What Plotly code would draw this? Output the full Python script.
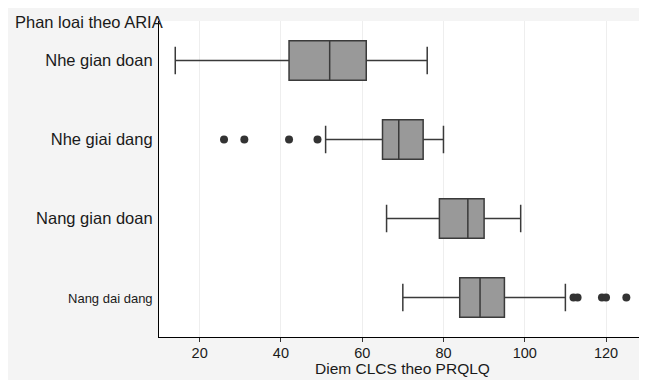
import plotly.graph_objects as go

categories = ["Nhe gian doan", "Nhe giai dang", "Nang gian doan", "Nang dai dang"]
q1 = [42, 65, 79, 84]
median = [52, 69, 86, 89]
q3 = [61, 75, 90, 95]
lower = [14, 51, 66, 70]
upper = [76, 80, 99, 110]

outlier_cat = ["Nhe giai dang"] * 4 + ["Nang dai dang"] * 5
outlier_val = [26, 31, 42, 49, 112, 113, 119, 120, 125]

x_ticks = [20, 40, 60, 80, 100, 120]
y_ticktext = ["Nhe gian doan", "Nhe giai dang", "Nang gian doan",
              "<span style='font-size:13px'>Nang dai dang</span>"]

# page is offset by the browser's 8px body margin
OFF = 8
W, H = 639, 372
ML, MR, MT = 159 - OFF, 4, 21 - OFF
MB = H - (337 - OFF)
pw, ph = W - ML - MR, H - MT - MB


def px_x(page_x):
    return (page_x - OFF - ML) / pw


def px_y(page_y):
    return 1 - (page_y - OFF - MT) / ph


fig = go.Figure()
fig.add_trace(go.Box(
    y=categories, q1=q1, median=median, q3=q3,
    lowerfence=lower, upperfence=upper,
    orientation="h", boxpoints=False,
    fillcolor="#999999", line=dict(color="#3a3a3a", width=1.5),
    whiskerwidth=0.7, showlegend=False, hoverinfo="x",
))
fig.add_trace(go.Scatter(
    x=outlier_val, y=outlier_cat, mode="markers",
    marker=dict(color="#333333", size=8),
    showlegend=False,
))

font = "Liberation Sans, Arial, sans-serif"
fig.update_layout(
    width=W, height=H,
    margin=dict(l=ML, r=MR, t=MT, b=MB, pad=0),
    paper_bgcolor="#f4f4f4", plot_bgcolor="white",
    font=dict(family=font, size=16, color="#1a1a1a"),
    boxgap=0.5, boxgroupgap=0,
    xaxis=dict(
        range=[10, 129.1], tickvals=x_ticks, automargin=False,
        showgrid=True, gridcolor="#eeeeee", gridwidth=1,
        zeroline=False, showline=True, linecolor="black", linewidth=1.2,
        ticks="outside", ticklen=4, tickcolor="#333333",
        ticklabelstandoff=-2,
        tickfont=dict(size=14.5),
    ),
    yaxis=dict(
        type="category", categoryorder="array", categoryarray=categories,
        autorange="reversed", automargin=False,
        tickvals=categories, ticktext=y_ticktext,
        showgrid=False, zeroline=False, showline=True,
        linecolor="black", linewidth=1.2,
        ticks="outside", ticklen=2, tickcolor="rgba(0,0,0,0)",
        tickfont=dict(size=16.5),
    ),
    annotations=[
        dict(
            text="Phan loai theo ARIA", xref="paper", yref="paper",
            x=px_x(13), y=px_y(22), xanchor="left", yanchor="middle",
            showarrow=False, font=dict(size=16.5, family=font, color="#1a1a1a"),
        ),
        dict(
            text="Diem CLCS theo PRQLQ", xref="paper", yref="paper",
            x=px_x(402), y=px_y(368), xanchor="center", yanchor="middle",
            showarrow=False, font=dict(size=15.5, family=font, color="#1a1a1a"),
        ),
    ],
)

fig.write_html("out.html")
